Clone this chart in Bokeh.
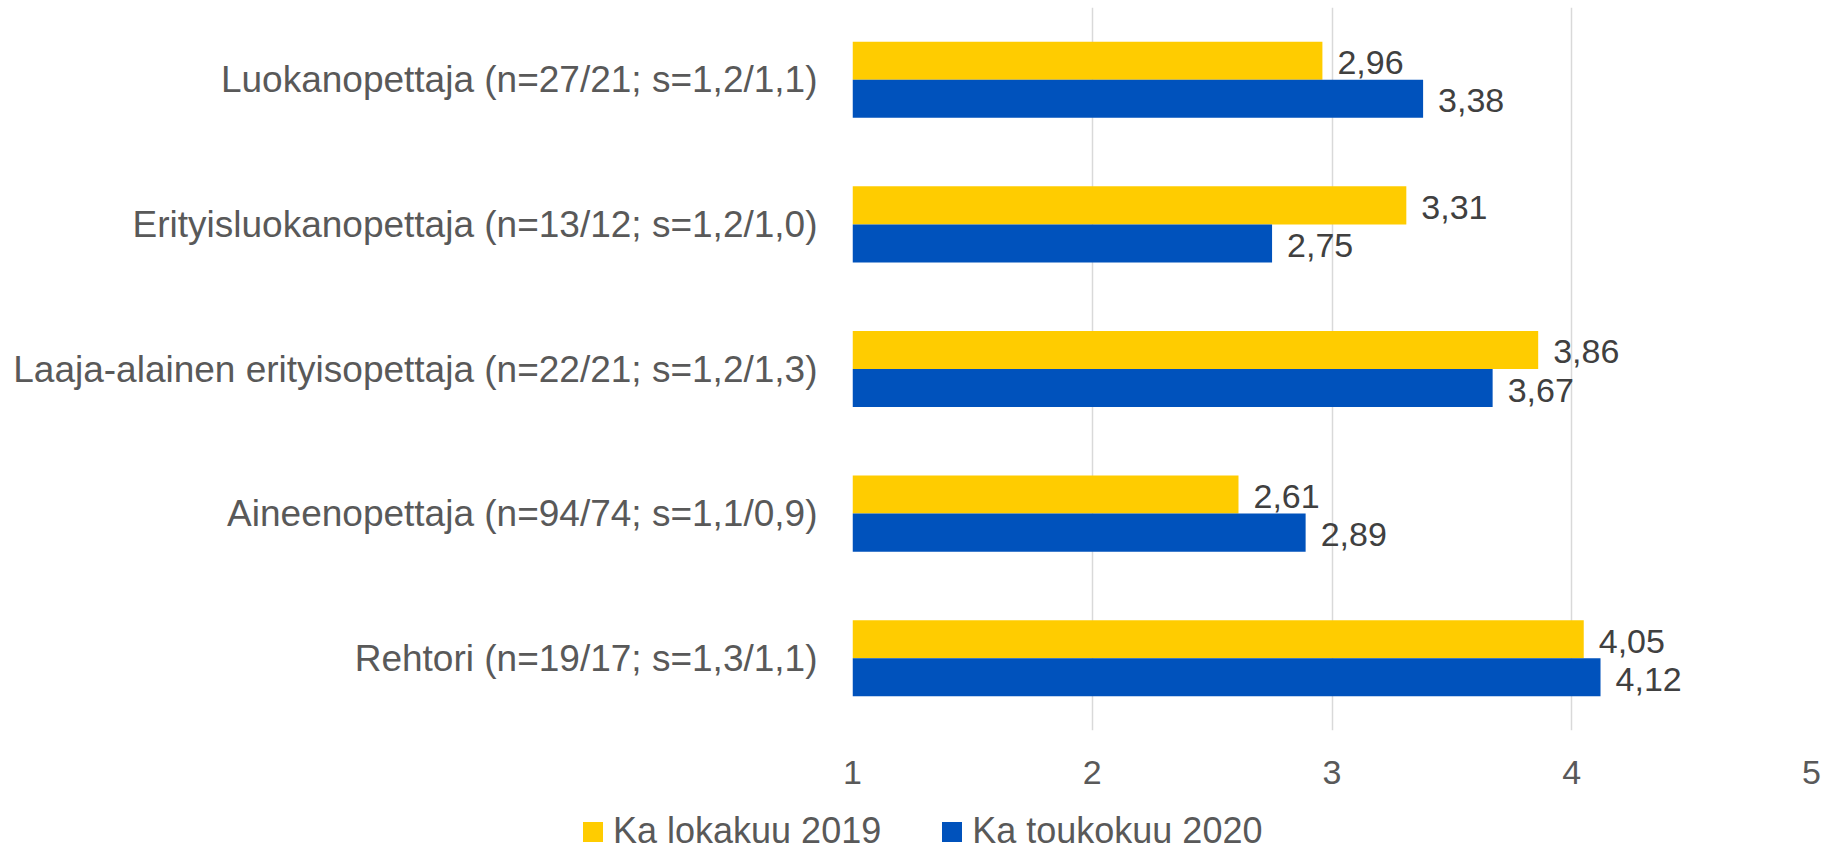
from bokeh.plotting import figure
from bokeh.layouts import column, row
from bokeh.models import (ColumnDataSource, FactorRange, Range1d, Legend, LegendItem,
                          FixedTicker, Spacer, Plot, HBar)
from bokeh.transform import dodge
from bokeh.core.properties import value
from bokeh.embed import file_html
from bokeh.resources import INLINE

# ---- data ----
categories = [
    "Luokanopettaja (n=27/21; s=1,2/1,1)",
    "Erityisluokanopettaja (n=13/12; s=1,2/1,0)",
    "Laaja-alainen erityisopettaja (n=22/21; s=1,2/1,3)",
    "Aineenopettaja (n=94/74; s=1,1/0,9)",
    "Rehtori (n=19/17; s=1,3/1,1)",
]
series_names = ["Ka lokakuu 2019", "Ka toukokuu 2020"]
oct_2019 = [2.96, 3.31, 3.86, 2.61, 4.05]
may_2020 = [3.38, 2.75, 3.67, 2.89, 4.12]
x_ticks = [1, 2, 3, 4, 5]

FONT = "Liberation Sans"
YELLOW = "#FFCC00"
BLUE = "#0052BC"
GREY = "#595959"
DARK = "#404040"

def fmt(v):
    return f"{v:.2f}".replace(".", ",")

src = ColumnDataSource(dict(
    cat=categories,
    a=oct_2019,
    b=may_2020,
    la=[fmt(v) for v in oct_2019],
    lb=[fmt(v) for v in may_2020],
))

W = 1831
H_MAIN = 790
H_LEG = 852 - H_MAIN

p = figure(
    width=W, height=H_MAIN,
    y_range=FactorRange(*list(reversed(categories)), range_padding=0),
    x_range=Range1d(1, 5),
    output_backend="svg", toolbar_location=None,
    min_border_left=852, min_border_right=20,
    min_border_top=7, min_border_bottom=H_MAIN - 730,
)
p.outline_line_color = None
p.background_fill_color = "white"
p.border_fill_color = "white"

BH = 0.263
off = BH / 2
r_a = p.hbar(y=dodge("cat", off, range=p.y_range), left=1, right="a", height=BH,
             source=src, fill_color=YELLOW, line_color=None)
r_b = p.hbar(y=dodge("cat", -off, range=p.y_range), left=1, right="b", height=BH,
             source=src, fill_color=BLUE, line_color=None)

p.text(x="a", y=dodge("cat", off, range=p.y_range), text="la", source=src,
       x_offset=15, y_offset=2, text_baseline="middle", text_align="left",
       text_font=value(FONT), text_font_size="34px", text_color=DARK)
p.text(x="b", y=dodge("cat", -off, range=p.y_range), text="lb", source=src,
       x_offset=15, y_offset=2, text_baseline="middle", text_align="left",
       text_font=value(FONT), text_font_size="34px", text_color=DARK)

# grid
p.ygrid.grid_line_color = None
p.xgrid.grid_line_color = "#D9D9D9"
p.xgrid.grid_line_width = 1.5
p.xaxis.ticker = FixedTicker(ticks=x_ticks)

# axes
for ax in (p.xaxis[0], p.yaxis[0]):
    ax.axis_line_color = None
    ax.major_tick_line_color = None
    ax.minor_tick_line_color = None
    ax.major_tick_out = 0
    ax.major_tick_in = 0
    ax.minor_tick_out = 0
    ax.major_label_text_font = FONT
    ax.major_label_text_color = GREY
p.xaxis.major_label_text_font_size = "34px"
p.xaxis.major_label_standoff = 30
p.yaxis.major_label_text_font_size = "37px"
p.yaxis.major_label_standoff = 35

# ---- legend strip (bare Plot with only a legend) ----
LEG_X = 580
leg_src = ColumnDataSource(dict(y=[5], r=[0]))  # zero-size, off-range: only the legend shows
lf = Plot(
    width=760, height=H_LEG,
    x_range=Range1d(0, 1), y_range=Range1d(0, 1),
    output_backend="svg", toolbar_location=None,
    min_border=0, min_border_left=0, min_border_right=0,
    min_border_top=0, min_border_bottom=0,
    outline_line_color=None,
    background_fill_color="white", border_fill_color="white",
)
la_r = lf.add_glyph(leg_src, HBar(y="y", left=0, right="r", height=0.01, fill_color=YELLOW, line_color=None))
lb_r = lf.add_glyph(leg_src, HBar(y="y", left=0, right="r", height=0.01, fill_color=BLUE, line_color=None))

legend = Legend(
    items=[LegendItem(label=series_names[0], renderers=[la_r]),
           LegendItem(label=series_names[1], renderers=[lb_r])],
    orientation="horizontal",
    location=(0, 0),
    glyph_width=25, glyph_height=25,
    label_standoff=8,
    spacing=58,
    padding=0, margin=0,
    border_line_color=None,
    background_fill_alpha=0,
    label_text_font=FONT,
    label_text_font_size="36px",
    label_text_color=GREY,
)
lf.add_layout(legend, "center")

layout = column(p, row(Spacer(width=LEG_X, height=H_LEG), lf, spacing=0), spacing=0)
open("out.html", "w").write(file_html(layout, INLINE))
